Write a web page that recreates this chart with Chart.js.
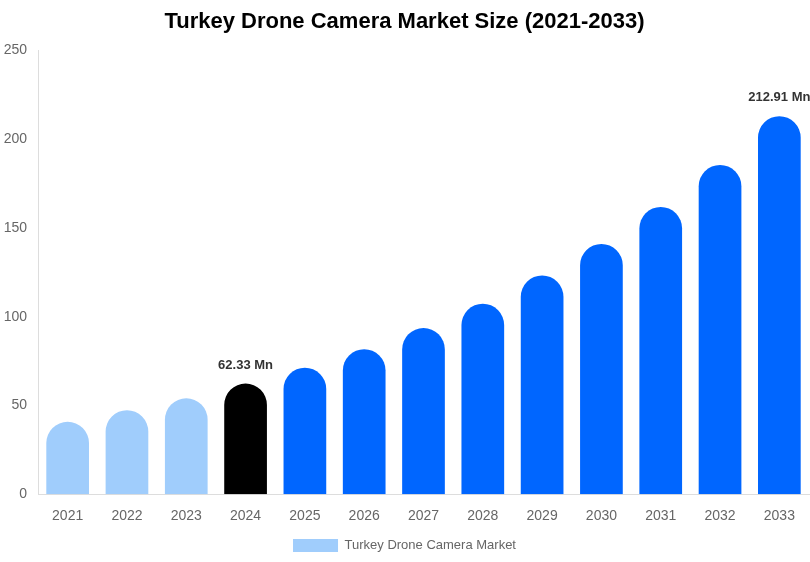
<!DOCTYPE html>
<html>
<head>
<meta charset="utf-8">
<script src="https://cdn.jsdelivr.net/npm/chart.js@4"></script>
<style>
  html, body { margin:0; padding:0; background:#fff; }
  #wrap { width:810px; height:562px; }
</style>
</head>
<body>
<div id="wrap"><canvas id="grafico"></canvas></div>
<script>
const anos = ["2021","2022","2023","2024","2025","2026","2027","2028","2029","2030","2031","2032","2033"];
const valores = [40.8, 47.3, 54.0, 62.33, 71.3, 81.7, 93.6, 107.3, 123.2, 141.0, 161.8, 185.5, 212.91];
const cores = ["#a0cdfc","#a0cdfc","#a0cdfc","#000000","#0066ff","#0066ff","#0066ff","#0066ff","#0066ff","#0066ff","#0066ff","#0066ff","#0066ff"];
const rotulos = {3:"62.33 Mn", 12:"212.91 Mn"};

// escreve os rotulos em cima das barras marcadas
const rotuloPlugin = {
    id:'rotulos',
    afterDatasetsDraw(chart){
        const ctx = chart.ctx;
        const meta = chart.getDatasetMeta(0);
        ctx.save();
        ctx.font = "bold 13px 'Liberation Sans', Arial, sans-serif";
        ctx.fillStyle = "#333";
        ctx.textAlign = "center";
        ctx.textBaseline = "bottom";
        Object.keys(rotulos).forEach(i=>{
            const bar = meta.data[i];
            ctx.fillText(rotulos[i], bar.x, bar.y - 12);
        });
        ctx.restore();
    }
};

Chart.defaults.font.family = "'Liberation Sans', Arial, sans-serif";
Chart.defaults.color = "#666";

new Chart(document.getElementById("grafico").getContext("2d"),{
    type:'bar',
    data:{
        labels: anos,
        datasets:[{
            label:'Turkey Drone Camera Market',
            data: valores,
            backgroundColor: cores,
            borderRadius:{topLeft:100, topRight:100, bottomLeft:0, bottomRight:0},
            borderSkipped:false
        }]
    },
    options:{
        responsive:true,
        maintainAspectRatio:false,
        animation:false,
        layout:{padding:{left:0,right:1,top:0,bottom:0}},
        plugins:{
            title:{display:true,text:'Turkey Drone Camera Market Size (2021-2033)',color:'#000',
                font:{size:22,weight:'bold'},padding:{top:9,bottom:15}},
            legend:{position:'bottom',labels:{boxWidth:45,boxHeight:13,padding:8,font:{size:13},color:'#666',
                generateLabels:()=>[{text:'Turkey Drone Camera Market',fillStyle:'#a0cdfc',strokeStyle:'#a0cdfc',lineWidth:0,fontColor:'#666'}]}},
            tooltip:{enabled:false}
        },
        scales:{
            x:{grid:{display:false},border:{color:'#ddd'},ticks:{font:{size:14},color:'#666',padding:6}},
            y:{min:0,max:250,grid:{display:false,drawTicks:false},border:{color:'#ddd'},
               afterFit:s=>{ s.width = 38; },
               ticks:{stepSize:50,font:{size:14},color:'#666',padding:11}}
        }
    },
    plugins:[rotuloPlugin]
});
</script>
</body>
</html>
